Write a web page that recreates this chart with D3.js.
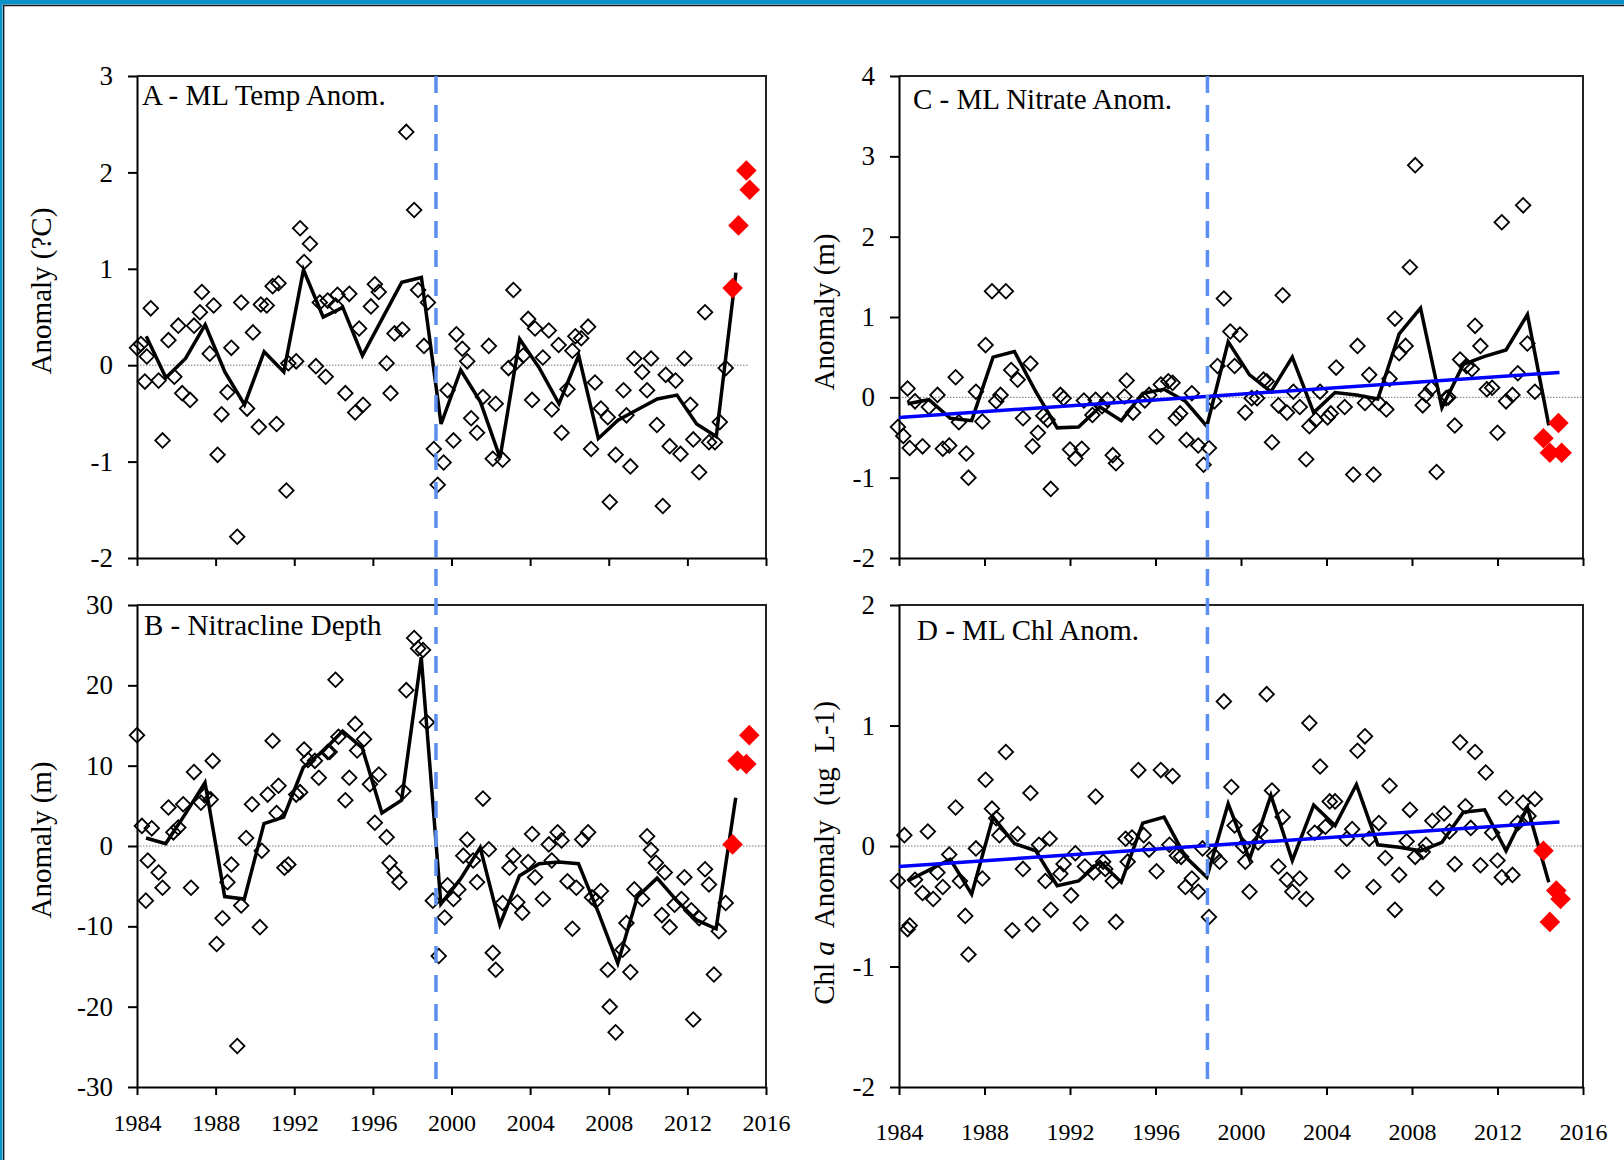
<!DOCTYPE html>
<html>
<head>
<meta charset="utf-8">
<script src="https://cdn.jsdelivr.net/npm/d3@7"></script>
<style>
  html, body { margin: 0; padding: 0; background: #fff; }
  svg text { font-family: "Liberation Serif", "Times New Roman", serif; fill: #000; }
</style>
</head>
<body>
<svg id="chart" width="1624" height="1160"></svg>
<script>
// ---- data ----
const years = [1984, 1985, 1986, 1987, 1988, 1989, 1990, 1991, 1992, 1993, 1994, 1995, 1996, 1997, 1998,
    1999, 2000, 2001, 2002, 2003, 2004, 2005, 2006, 2007, 2008, 2009, 2010, 2011, 2012, 2013, 2014];

// A - mixed layer temperature anomaly (deg C)
const tempMean = [0.30, -0.13, 0.07, 0.42, -0.07, -0.41, 0.14, -0.07, 0.99, 0.50, 0.60, 0.10, 0.48, 0.86, 0.91,
    -0.61, -0.05, -0.38, -0.96, 0.27, -0.03, -0.40, 0.10, -0.76, -0.57, -0.46, -0.35, -0.31, -0.61, -0.74, 0.96];
const tempPts = [[1984.0,0.18],[1984.2,0.22],[1984.4,-0.17],[1984.5,0.09],[1984.7,0.59],[1985.1,-0.16],[1985.3,-0.78],
    [1985.6,0.26],[1985.9,-0.12],[1986.1,0.41],[1986.3,-0.29],[1986.7,-0.36],[1986.9,0.41],[1987.2,0.55],[1987.3,0.76],
    [1987.7,0.12],[1987.9,0.62],[1988.1,-0.93],[1988.3,-0.51],[1988.6,-0.28],[1988.8,0.18],[1989.1,-1.78],[1989.3,0.65],
    [1989.6,-0.45],[1989.9,0.34],[1990.2,-0.64],[1990.3,0.63],[1990.6,0.62],[1990.9,0.82],[1991.1,-0.61],[1991.2,0.85],
    [1991.6,-1.30],[1991.7,0.02],[1992.1,0.04],[1992.3,1.42],[1992.5,1.07],[1992.8,1.26],[1993.1,-0.01],[1993.3,0.65],
    [1993.6,-0.12],[1993.7,0.67],[1994.1,0.62],[1994.2,0.73],[1994.6,-0.29],[1994.8,0.74],[1995.1,-0.49],[1995.3,0.38],
    [1995.5,-0.41],[1995.9,0.61],[1996.1,0.84],[1996.3,0.76],[1996.7,0.02],[1996.9,-0.29],[1997.1,0.33],[1997.5,0.37],
    [1997.7,2.42],[1998.1,1.61],[1998.3,0.78],[1998.6,0.20],[1998.8,0.65],[1999.1,-0.87],[1999.3,-1.24],[1999.6,-1.01],
    [1999.8,-0.26],[2000.1,-0.78],[2000.25,0.32],[2000.55,0.17],[2000.8,0.04],[2001.0,-0.55],[2001.3,-0.70],[2001.6,-0.33],
    [2001.9,0.20],[2002.1,-0.97],[2002.25,-0.40],[2002.6,-0.98],[2002.9,-0.03],[2003.15,0.78],[2003.3,0.03],[2003.65,0.10],
    [2003.9,0.48],[2004.1,-0.36],[2004.25,0.38],[2004.65,0.08],[2004.95,0.36],[2005.1,-0.46],[2005.45,0.21],[2005.6,-0.70],
    [2005.9,-0.25],[2006.15,0.15],[2006.3,0.30],[2006.6,0.28],[2006.95,0.40],[2007.1,-0.87],[2007.3,-0.18],[2007.6,-0.45],
    [2007.95,-0.54],[2008.05,-1.42],[2008.35,-0.93],[2008.75,-0.26],[2008.9,-0.52],[2009.1,-1.05],[2009.3,0.07],
    [2009.7,-0.07],[2009.95,-0.26],[2010.15,0.07],[2010.45,-0.62],[2010.75,-1.46],[2010.9,-0.10],[2011.1,-0.84],
    [2011.4,-0.16],[2011.65,-0.92],[2011.85,0.07],[2012.15,-0.41],[2012.3,-0.77],[2012.6,-1.11],[2012.9,0.55],
    [2013.1,-0.80],[2013.4,-0.80],[2013.65,-0.59],[2013.95,-0.03]];
const tempRecent = [[2014.3,0.80],[2014.6,1.45],[2015.0,2.02],[2015.17,1.82]];

// B - nitracline depth anomaly (m)
const nclMean = [1.0, 0.3, 4.0, 7.9, -6.3, -6.6, 2.8, 3.6, 9.8, 11.8, 14.3, 12.2, 4.1, 5.7, 23.5,
    -7.2, -4.1, -0.2, -9.8, -3.7, -2.2, -2.0, -2.2, -8.2, -14.6, -6.3, -4.0, -6.8, -9.2, -10.3, 6.0];
const nclPts = [[1984.0,13.8],[1984.25,2.5],[1984.45,-6.8],[1984.55,-1.8],[1984.75,2.2],[1985.1,-3.3],[1985.3,-5.2],
    [1985.6,4.8],[1985.85,1.7],[1986.1,2.3],[1986.35,5.2],[1986.75,-5.2],[1986.9,9.2],[1987.25,5.4],[1987.45,6.3],
    [1987.75,5.8],[1987.85,10.6],[1988.05,-12.2],[1988.35,-9.0],[1988.6,-4.5],[1988.8,-2.3],[1989.1,-24.9],[1989.3,-7.4],
    [1989.55,1.0],[1989.85,5.2],[1990.25,-10.1],[1990.35,-0.6],[1990.65,6.4],[1990.9,13.1],[1991.1,4.1],[1991.2,7.5],
    [1991.5,-2.7],[1991.7,-2.3],[1992.1,6.4],[1992.3,6.7],[1992.5,12.0],[1992.7,10.7],[1993.05,10.6],[1993.25,8.5],
    [1993.7,11.7],[1993.8,11.7],[1994.1,20.7],[1994.25,13.6],[1994.6,5.7],[1994.8,8.5],[1995.1,15.2],[1995.2,11.9],
    [1995.55,13.3],[1995.85,7.7],[1996.1,2.9],[1996.3,8.9],[1996.7,1.1],[1996.85,-2.1],[1997.1,-3.3],[1997.35,-4.5],
    [1997.55,6.8],[1997.7,19.4],[1998.1,25.9],[1998.3,24.6],[1998.55,24.4],[1998.75,15.4],[1999.05,-6.8],[1999.35,-13.7],
    [1999.65,-8.9],[1999.8,-4.9],[2000.1,-6.6],[2000.35,-5.4],[2000.6,-1.2],[2000.8,0.8],[2001.1,-1.8],[2001.3,-4.5],
    [2001.6,5.9],[2001.9,-0.4],[2002.1,-13.3],[2002.25,-15.4],[2002.6,-7.1],[2002.95,-2.7],[2003.15,-1.2],[2003.35,-7.0],
    [2003.6,-8.3],[2003.9,-2.0],[2004.1,1.5],[2004.25,-3.9],[2004.65,-6.6],[2004.95,0.2],[2005.1,-1.8],[2005.4,1.7],
    [2005.6,0.7],[2005.9,-4.4],[2006.15,-10.3],[2006.35,-5.2],[2006.65,0.8],[2006.95,1.7],[2007.15,-6.4],[2007.35,-6.8],
    [2007.6,-5.6],[2007.95,-15.4],[2008.05,-20.0],[2008.35,-23.2],[2008.7,-12.9],[2008.9,-9.6],[2009.1,-15.7],
    [2009.3,-5.4],[2009.7,-6.6],[2009.95,1.2],[2010.15,-0.5],[2010.4,-2.1],[2010.7,-8.6],[2010.85,-3.3],[2011.1,-10.1],
    [2011.35,-7.3],[2011.7,-6.6],[2011.85,-3.9],[2012.2,-8.0],[2012.3,-21.6],[2012.6,-9.0],[2012.9,-2.9],[2013.1,-4.8],
    [2013.35,-16.0],[2013.6,-10.6],[2013.95,-7.1]];
const nclRecent = [[2014.3,0.2],[2014.55,10.6],[2015.0,10.2],[2015.15,13.8]];

// C - mixed layer nitrate anomaly
const no3Mean = [-0.08, -0.03, -0.26, -0.29, 0.50, 0.57, 0.07, -0.38, -0.37, -0.12, -0.29, 0.05, 0.10, -0.05, -0.36,
    0.69, 0.28, 0.07, 0.50, -0.19, 0.06, 0.03, -0.02, 0.79, 1.11, -0.13, 0.41, 0.51, 0.59, 1.03, -0.35];
const no3Pts = [[1983.95,-0.37],[1984.2,-0.48],[1984.4,0.11],[1984.5,-0.63],[1984.75,-0.05],[1985.1,-0.61],[1985.4,-0.12],
    [1985.8,0.03],[1986.05,-0.64],[1986.35,-0.60],[1986.65,0.25],[1986.8,-0.31],[1987.15,-0.70],[1987.25,-1.00],
    [1987.6,0.07],[1987.9,-0.30],[1988.05,0.65],[1988.35,1.32],[1988.55,-0.05],[1988.75,0.03],[1989.0,1.32],[1989.25,0.34],
    [1989.55,0.22],[1989.8,-0.26],[1990.15,0.42],[1990.25,-0.61],[1990.5,-0.44],[1990.75,-0.23],[1990.95,-0.28],
    [1991.1,-1.14],[1991.55,0.03],[1991.7,-0.01],[1992.0,-0.65],[1992.25,-0.76],[1992.55,-0.64],[1992.65,-0.04],
    [1993.05,-0.22],[1993.2,-0.03],[1993.5,-0.11],[1993.75,-0.03],[1994.0,-0.72],[1994.15,-0.82],[1994.55,0.01],
    [1994.65,0.21],[1994.95,-0.19],[1995.5,-0.04],[1995.7,0.03],[1996.05,-0.49],[1996.25,0.16],[1996.6,0.20],[1996.8,0.18],
    [1996.95,-0.26],[1997.15,-0.20],[1997.45,-0.53],[1997.7,0.05],[1998.0,-0.60],[1998.25,-0.84],[1998.5,-0.63],
    [1998.75,-0.05],[1998.9,0.39],[1999.2,1.23],[1999.5,0.82],[1999.7,0.39],[1999.95,0.78],[2000.2,-0.19],[2000.5,-0.01],
    [2000.75,-0.01],[2001.05,0.22],[2001.2,0.20],[2001.45,-0.56],[2001.75,-0.10],[2001.95,1.27],[2002.15,-0.19],
    [2002.45,0.07],[2002.75,-0.12],[2003.05,-0.77],[2003.2,-0.36],[2003.5,-0.28],[2003.7,0.07],[2004.05,-0.25],
    [2004.2,-0.20],[2004.45,0.37],[2004.85,-0.12],[2005.25,-0.96],[2005.45,0.64],[2005.8,-0.07],[2006.0,0.28],
    [2006.2,-0.96],[2006.45,-0.07],[2006.8,-0.15],[2006.95,0.23],[2007.2,0.98],[2007.4,0.55],[2007.7,0.64],[2007.9,1.62],
    [2008.15,2.89],[2008.5,-0.10],[2008.65,0.03],[2008.9,0.11],[2009.15,-0.93],[2009.6,-0.01],[2009.7,0.00],[2010.0,-0.35],
    [2010.25,0.47],[2010.55,0.39],[2010.8,0.35],[2010.95,0.89],[2011.2,0.64],[2011.5,0.10],[2011.75,0.12],[2012.0,-0.44],
    [2012.2,2.18],[2012.4,-0.05],[2012.7,0.03],[2012.95,0.30],[2013.2,2.39],[2013.4,0.67],[2013.75,0.07]];
const no3Recent = [[2014.15,-0.51],[2014.45,-0.69],[2014.85,-0.32],[2015.0,-0.69]];
const no3TrendYears = [1984, 2014.9];
const no3TrendVals = [-0.25, 0.31];

// D - mixed layer chlorophyll anomaly
const chlMean = [-0.29, -0.20, -0.11, -0.40, 0.24, 0.02, -0.04, -0.33, -0.29, -0.13, -0.30, 0.19, 0.24, -0.09, -0.26,
    0.35, -0.11, 0.42, -0.12, 0.34, 0.17, 0.51, 0.01, -0.01, -0.04, 0.03, 0.28, 0.30, -0.04, 0.32, -0.30];
const chlPts = [[1983.95,-0.29],[1984.25,0.09],[1984.4,-0.69],[1984.5,-0.66],[1984.75,-0.28],[1985.1,-0.39],[1985.35,0.12],
    [1985.6,-0.44],[1985.8,-0.22],[1986.05,-0.34],[1986.35,-0.07],[1986.65,0.32],[1986.85,-0.29],[1987.1,-0.58],
    [1987.25,-0.90],[1987.6,-0.02],[1987.9,-0.27],[1988.05,0.55],[1988.35,0.31],[1988.55,0.23],[1988.7,0.09],[1989.0,0.78],
    [1989.3,-0.70],[1989.55,0.10],[1989.8,-0.19],[1990.15,0.44],[1990.25,-0.65],[1990.55,0.01],[1990.85,-0.29],
    [1991.05,0.06],[1991.1,-0.53],[1991.55,-0.23],[1991.7,-0.15],[1992.05,-0.41],[1992.25,-0.06],[1992.5,-0.64],
    [1992.7,-0.17],[1993.1,-0.22],[1993.2,0.41],[1993.55,-0.13],[1993.65,-0.19],[1994.0,-0.29],[1994.15,-0.63],
    [1994.6,0.06],[1994.7,-0.13],[1994.9,0.07],[1995.2,0.63],[1995.45,0.09],[1995.7,-0.03],[1996.05,-0.21],[1996.25,0.63],
    [1996.65,0.01],[1996.8,0.58],[1997.0,-0.08],[1997.2,-0.09],[1997.4,-0.34],[1997.7,-0.27],[1998.0,-0.38],[1998.2,-0.02],
    [1998.5,-0.59],[1998.75,-0.08],[1999.0,-0.13],[1999.2,1.20],[1999.55,0.49],[1999.7,0.17],[2000.1,0.00],[2000.2,-0.13],
    [2000.4,-0.38],[2000.8,0.03],[2000.9,0.13],[2001.2,1.26],[2001.45,0.46],[2001.75,-0.17],[2001.95,0.24],[2002.15,-0.28],
    [2002.4,-0.38],[2002.75,-0.27],[2003.05,-0.44],[2003.2,1.02],[2003.45,0.11],[2003.7,0.66],[2003.95,0.16],[2004.15,0.37],
    [2004.4,0.37],[2004.75,-0.21],[2004.95,0.06],[2005.2,0.14],[2005.45,0.79],[2005.8,0.91],[2006.0,0.06],[2006.2,-0.34],
    [2006.45,0.19],[2006.75,-0.10],[2006.95,0.50],[2007.2,-0.53],[2007.4,-0.24],[2007.75,0.04],[2007.9,0.30],
    [2008.15,-0.09],[2008.5,-0.05],[2008.65,0.01],[2008.95,0.21],[2009.15,-0.35],[2009.5,0.27],[2009.75,0.12],
    [2010.0,-0.15],[2010.25,0.86],[2010.5,0.33],[2010.75,0.15],[2010.95,0.78],[2011.2,-0.16],[2011.45,0.61],[2011.75,0.11],
    [2012.0,-0.12],[2012.2,-0.26],[2012.4,0.40],[2012.7,-0.24],[2012.95,0.19],[2013.2,0.36],[2013.45,0.25],[2013.75,0.39]];
const chlRecent = [[2014.15,-0.04],[2014.45,-0.63],[2014.75,-0.37],[2014.95,-0.44]];
const chlTrendYears = [1984, 2014.9];
const chlTrendVals = [-0.17, 0.20];

const xTicks = [1984, 1988, 1992, 1996, 2000, 2004, 2008, 2012, 2016];
const regimeShift = { left: 1999.21, right: 1998.43 };

// ---- layout ----
const svg = d3.select("#chart");
const cols = { left: [137, 766], right: [899, 1583] };
const rows = { top: [76, 558], bottom: [605, 1087] };

const panels = [
    { col: "left", row: "top", domain: [-2, 3], step: 1, pts: tempPts, mean: tempMean, recent: tempRecent,
      shift: 0.47, title: "A - ML Temp Anom.", titleAt: [5, 29], label: "Anomaly (?C)", labelAt: [51, 291],
      xLabels: false, zeroTo: 2015.1 },
    { col: "left", row: "bottom", domain: [-30, 30], step: 10, pts: nclPts, mean: nclMean, recent: nclRecent,
      shift: 0.46, title: "B - Nitracline Depth", titleAt: [7, 30], label: "Anomaly (m)", labelAt: [51, 840],
      xLabels: true, labelPad: 19 },
    { col: "right", row: "top", domain: [-2, 4], step: 1, pts: no3Pts, mean: no3Mean, recent: no3Recent,
      shift: 0.4, title: "C - ML Nitrate Anom.", titleAt: [14, 33], label: "Anomaly (m)", labelAt: [834, 312],
      xLabels: false, trend: [no3TrendYears, no3TrendVals] },
    { col: "right", row: "bottom", domain: [-2, 2], step: 1, pts: chlPts, mean: chlMean, recent: chlRecent,
      shift: 0.4, title: "D - ML Chl Anom.", titleAt: [18, 35], label: null, labelAt: [834, 853],
      xLabels: true, labelPad: 28, trend: [chlTrendYears, chlTrendVals] }
];

const diamond = d3.symbol().type(d3.symbolSquare);

function drawPanel(p) {
    const [x0, x1] = cols[p.col];
    const [y0, y1] = rows[p.row];
    const x = d3.scaleLinear().domain([1984, 2016]).range([x0, x1]);
    const y = d3.scaleLinear().domain(p.domain).range([y1, y0]);
    const g = svg.append("g");

    // zero reference line
    g.append("line")
        .attr("x1", x0).attr("x2", x(p.zeroTo || 2016))
        .attr("y1", y(0)).attr("y2", y(0))
        .attr("stroke", "#777").attr("stroke-width", 1).attr("stroke-dasharray", "1.5,1.5");

    // frame (top + right)
    g.append("path")
        .attr("d", `M${x0},${y0}H${x1}V${y1}`)
        .attr("fill", "none").attr("stroke", "#222").attr("stroke-width", 2);

    // axes
    const yAxis = d3.axisLeft(y)
        .tickValues(d3.range(p.domain[0], p.domain[1] + p.step / 2, p.step))
        .tickFormat(d => String(d))
        .tickSize(9).tickSizeOuter(0).tickPadding(15);
    const ga = g.append("g").attr("transform", `translate(${x0},0)`).call(yAxis);
    ga.attr("font-family", null).attr("font-size", 27);

    const xAxis = d3.axisBottom(x)
        .tickValues(xTicks)
        .tickFormat(p.xLabels ? d => String(d) : () => "")
        .tickSize(8).tickSizeOuter(0).tickPadding(p.labelPad || 10);
    const gb = g.append("g").attr("transform", `translate(0,${y1})`).call(xAxis);
    gb.attr("font-family", null).attr("font-size", 24);

    [ga, gb].forEach(a => {
        a.select(".domain").attr("stroke", "#000").attr("stroke-width", 2);
        a.selectAll(".tick line").attr("stroke", "#000").attr("stroke-width", 2);
        a.selectAll(".tick text").attr("fill", "#000");
    });

    // seasonal observations (open diamonds)
    g.selectAll(".obs").data(p.pts).enter()
        .append("path")
        .attr("class", "obs")
        .attr("d", diamond.size(106))
        .attr("transform", d => `translate(${x(d[0])},${y(d[1])}) rotate(45)`)
        .attr("fill", "none").attr("stroke", "#000").attr("stroke-width", 1.8);

    // annual means
    const line = d3.line().x((d, i) => x(years[i] + p.shift)).y(d => y(d));
    g.append("path").datum(p.mean)
        .attr("d", line)
        .attr("fill", "none").attr("stroke", "#000").attr("stroke-width", 3.5)
        .attr("stroke-linejoin", "miter");

    // linear trend
    if (p.trend) {
        const [ty, tv] = p.trend;
        g.append("line")
            .attr("x1", x(ty[0])).attr("x2", x(ty[1]))
            .attr("y1", y(tv[0])).attr("y2", y(tv[1]))
            .attr("stroke", "#0000ff").attr("stroke-width", 3.5);
    }

    // most recent observations (red, filled)
    g.selectAll(".recent").data(p.recent).enter()
        .append("path")
        .attr("class", "recent")
        .attr("d", diamond.size(212))
        .attr("transform", d => `translate(${x(d[0])},${y(d[1])}) rotate(45)`)
        .attr("fill", "#ff0000");

    // panel title
    g.append("text")
        .attr("x", x0 + p.titleAt[0]).attr("y", y0 + p.titleAt[1])
        .attr("font-size", 29)
        .text(p.title);

    // y-axis title
    const t = g.append("text")
        .attr("transform", `translate(${p.labelAt[0]},${p.labelAt[1]}) rotate(-90)`)
        .attr("text-anchor", "middle")
        .attr("font-size", 29)
        .style("white-space", "pre");
    if (p.label) {
        t.text(p.label);
    } else {
        t.append("tspan").text("Chl ");
        t.append("tspan").attr("font-style", "italic").text("a");
        t.append("tspan").text("  Anomaly  (ug  L-1)");
    }
    return x;
}

const scales = panels.map(drawPanel);

// regime-shift markers spanning both panels in each column
[["left", scales[0]], ["right", scales[2]]].forEach(([c, x]) => {
    const xv = x(regimeShift[c]);
    svg.append("line")
        .attr("x1", xv).attr("x2", xv)
        .attr("y1", rows.top[0]).attr("y2", rows.bottom[1] - 3)
        .attr("stroke", "#5b8ff0").attr("stroke-width", 3.5)
        .attr("stroke-dasharray", "17,12");
});

// outer frame of the picture
svg.append("rect").attr("x", 0).attr("y", 0).attr("width", 1624).attr("height", 4.5).attr("fill", "#0a93c8");
svg.append("rect").attr("x", 0).attr("y", 0).attr("width", 2.6).attr("height", 1160).attr("fill", "#0a93c8");
svg.append("line").attr("x1", 3).attr("x2", 1624).attr("y1", 5.5).attr("y2", 5.5)
    .attr("stroke", "#1a1a1a").attr("stroke-width", 1.6);
svg.append("line").attr("x1", 3.7).attr("x2", 3.7).attr("y1", 5).attr("y2", 1160)
    .attr("stroke", "#1a1a1a").attr("stroke-width", 1.4);
</script>
</body>
</html>
